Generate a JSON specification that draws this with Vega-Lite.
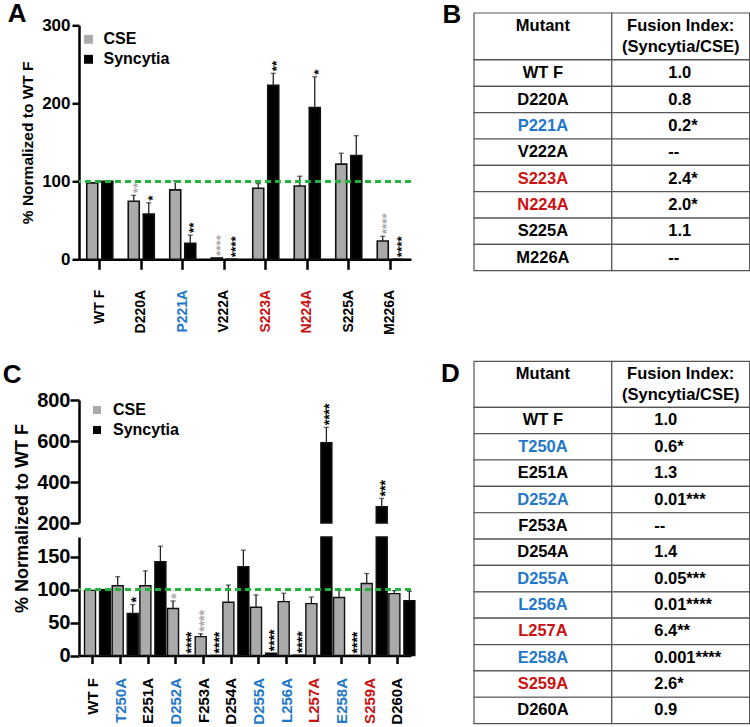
{
  "$schema": "https://vega.github.io/schema/vega-lite/v6.json",
  "padding": {"left": 2, "top": 1, "right": 0, "bottom": 0},
  "config": {
    "font": "Liberation Sans",
    "view": {"stroke": null},
    "axis": {"grid": false, "domainColor": "black", "tickColor": "black", "labelColor": "black", "titleColor": "black", "labelFontWeight": "bold", "titleFontWeight": "bold"},
    "title": {"fontSize": 26, "fontWeight": "bold", "anchor": "start", "color": "black"}
  },
  "datasets": {
    "a": [
      {"mutant": "WT F", "series": "CSE", "value": 98, "upper": 98, "stars": ""},
      {"mutant": "WT F", "series": "Syncytia", "value": 100, "upper": 100, "stars": ""},
      {"mutant": "D220A", "series": "CSE", "value": 74.5, "upper": 82, "stars": "**"},
      {"mutant": "D220A", "series": "Syncytia", "value": 58, "upper": 72.5, "stars": "*"},
      {"mutant": "P221A", "series": "CSE", "value": 89, "upper": 100.5, "stars": ""},
      {"mutant": "P221A", "series": "Syncytia", "value": 20.5, "upper": 31, "stars": "**"},
      {"mutant": "V222A", "series": "CSE", "value": 1.7, "upper": 1.7, "stars": "****"},
      {"mutant": "V222A", "series": "Syncytia", "value": 0, "upper": 0, "stars": "****"},
      {"mutant": "S223A", "series": "CSE", "value": 91, "upper": 97, "stars": ""},
      {"mutant": "S223A", "series": "Syncytia", "value": 223, "upper": 238.5, "stars": "**"},
      {"mutant": "N224A", "series": "CSE", "value": 94, "upper": 106.5, "stars": ""},
      {"mutant": "N224A", "series": "Syncytia", "value": 194.5, "upper": 234, "stars": "*"},
      {"mutant": "S225A", "series": "CSE", "value": 122, "upper": 136, "stars": ""},
      {"mutant": "S225A", "series": "Syncytia", "value": 133, "upper": 158.5, "stars": ""},
      {"mutant": "M226A", "series": "CSE", "value": 23.5, "upper": 29.5, "stars": "****"},
      {"mutant": "M226A", "series": "Syncytia", "value": 0, "upper": 0, "stars": "****"}
    ],
    "c": [
      {"mutant": "WT F", "series": "CSE", "value": 99, "upper": 99, "stars": ""},
      {"mutant": "WT F", "series": "Syncytia", "value": 100, "upper": 100, "stars": ""},
      {"mutant": "T250A", "series": "CSE", "value": 105.9, "upper": 119.7, "stars": ""},
      {"mutant": "T250A", "series": "Syncytia", "value": 64, "upper": 77.3, "stars": "*"},
      {"mutant": "E251A", "series": "CSE", "value": 106, "upper": 128.6, "stars": ""},
      {"mutant": "E251A", "series": "Syncytia", "value": 142.4, "upper": 166, "stars": ""},
      {"mutant": "D252A", "series": "CSE", "value": 71.4, "upper": 82.8, "stars": "*"},
      {"mutant": "D252A", "series": "Syncytia", "value": 0, "upper": 0, "stars": "****"},
      {"mutant": "F253A", "series": "CSE", "value": 28.6, "upper": 33, "stars": "****"},
      {"mutant": "F253A", "series": "Syncytia", "value": 0, "upper": 0, "stars": "****"},
      {"mutant": "D254A", "series": "CSE", "value": 80.8, "upper": 107, "stars": ""},
      {"mutant": "D254A", "series": "Syncytia", "value": 135, "upper": 160, "stars": ""},
      {"mutant": "D255A", "series": "CSE", "value": 73.4, "upper": 92, "stars": ""},
      {"mutant": "D255A", "series": "Syncytia", "value": 3.4, "upper": 3.4, "stars": "****"},
      {"mutant": "L256A", "series": "CSE", "value": 81.8, "upper": 94.6, "stars": ""},
      {"mutant": "L256A", "series": "Syncytia", "value": 0.5, "upper": 0.5, "stars": "****"},
      {"mutant": "L257A", "series": "CSE", "value": 78.8, "upper": 88.7, "stars": ""},
      {"mutant": "L257A", "series": "Syncytia", "value": 591.7, "upper": 666.8, "stars": "****"},
      {"mutant": "E258A", "series": "CSE", "value": 88.2, "upper": 99, "stars": ""},
      {"mutant": "E258A", "series": "Syncytia", "value": 0, "upper": 0, "stars": "****"},
      {"mutant": "S259A", "series": "CSE", "value": 109.4, "upper": 124.6, "stars": ""},
      {"mutant": "S259A", "series": "Syncytia", "value": 279.6, "upper": 320, "stars": "***"},
      {"mutant": "D260A", "series": "CSE", "value": 94, "upper": 98.5, "stars": ""},
      {"mutant": "D260A", "series": "Syncytia", "value": 83.3, "upper": 97.5, "stars": ""}
    ],
    "b": [
      {"mutant": "WT F", "fi": "1.0", "effect": "none"},
      {"mutant": "D220A", "fi": "0.8", "effect": "none"},
      {"mutant": "P221A", "fi": "0.2*", "effect": "decreased"},
      {"mutant": "V222A", "fi": "--", "effect": "none"},
      {"mutant": "S223A", "fi": "2.4*", "effect": "increased"},
      {"mutant": "N224A", "fi": "2.0*", "effect": "increased"},
      {"mutant": "S225A", "fi": "1.1", "effect": "none"},
      {"mutant": "M226A", "fi": "--", "effect": "none"}
    ],
    "d": [
      {"mutant": "WT F", "fi": "1.0", "effect": "none"},
      {"mutant": "T250A", "fi": "0.6*", "effect": "decreased"},
      {"mutant": "E251A", "fi": "1.3", "effect": "none"},
      {"mutant": "D252A", "fi": "0.01***", "effect": "decreased"},
      {"mutant": "F253A", "fi": "--", "effect": "none"},
      {"mutant": "D254A", "fi": "1.4", "effect": "none"},
      {"mutant": "D255A", "fi": "0.05***", "effect": "decreased"},
      {"mutant": "L256A", "fi": "0.01****", "effect": "decreased"},
      {"mutant": "L257A", "fi": "6.4**", "effect": "increased"},
      {"mutant": "E258A", "fi": "0.001****", "effect": "decreased"},
      {"mutant": "S259A", "fi": "2.6*", "effect": "increased"},
      {"mutant": "D260A", "fi": "0.9", "effect": "none"}
    ],
    "hdr": [
      {"col": "Mutant", "label": "Mutant\n "},
      {"col": "Fusion", "label": "Fusion Index:\n(Syncytia/CSE)"}
    ]
  },
  "resolve": {"scale": {"color": "independent", "x": "independent", "y": "independent"}, "legend": {"color": "independent"}},
  "spacing": 24,
  "hconcat": [
    {
      "spacing": 26,
      "resolve": {"scale": {"color": "independent", "x": "independent", "y": "independent"}, "legend": {"color": "independent"}},
      "vconcat": [
        {
          "spacing": 11.3,
          "bounds": "flush",
          "resolve": {"scale": {"color": "independent", "x": "independent", "y": "independent"}, "legend": {"color": "independent"}},
          "vconcat": [
            {"width": 332, "height": 1, "data": {"values": []}, "mark": {"type": "point", "opacity": 0}},
            {
              "title": {"text": "A", "dx": -13, "offset": -11},
              "width": 332,
              "height": 234,
              "data": {"name": "a"},
              "layer": [
                {
                  "mark": {"type": "bar", "stroke": "#111111", "strokeWidth": 1.6},
                  "encoding": {
                    "x": {"field": "mutant", "type": "nominal", "sort": null, "title": null,
                      "scale": {"domain": ["WT F", "D220A", "P221A", "V222A", "S223A", "N224A", "S225A", "M226A"], "paddingInner": 0.373, "paddingOuter": 0.1865},
                      "axis": {"labelAngle": 270, "labelFontSize": 14, "tickSize": 10, "labelPadding": 20, "domainWidth": 2.5, "tickWidth": 2.5,
                        "labelColor": {"condition": [{"test": "datum.value === 'P221A'", "value": "#1f78c9"}, {"test": "indexof(['S223A','N224A'], datum.value) >= 0", "value": "#cc1111"}], "value": "black"}}},
                    "xOffset": {"field": "series", "type": "nominal", "scale": {"domain": ["CSE", "Syncytia"], "paddingInner": 0.267, "paddingOuter": 0}},
                    "y": {"field": "value", "type": "quantitative", "title": "% Normalized to WT F", "scale": {"domain": [0, 300]},
                      "axis": {"values": [0, 100, 200, 300], "labelFontSize": 17, "tickSize": 7, "labelPadding": 2, "domainWidth": 2.5, "tickWidth": 2.5, "titleFontSize": 15.5, "titlePadding": 6}},
                    "color": {"field": "series", "type": "nominal", "scale": {"domain": ["CSE", "Syncytia"], "range": ["#aaaaaa", "#000000"]},
                      "legend": {"orient": "top-left", "title": null, "symbolType": "square", "symbolSize": 80, "symbolStrokeWidth": 0, "symbolOffset": -4.5, "labelFontSize": 16, "labelFontWeight": "bold", "labelColor": "black", "labelOffset": 7, "offset": 6, "padding": 0, "rowPadding": 4}}
                  }
                },
                {
                  "transform": [{"filter": "datum.upper > datum.value"}],
                  "mark": {"type": "rule", "color": "#222222", "strokeWidth": 1.3},
                  "encoding": {
                    "x": {"field": "mutant", "type": "nominal", "sort": null, "title": null},
                    "xOffset": {"field": "series", "type": "nominal"},
                    "y": {"field": "value", "type": "quantitative", "title": "% Normalized to WT F",
                      "axis": {"values": [0, 100, 200, 300], "labelFontSize": 17, "tickSize": 7, "labelPadding": 2, "domainWidth": 2.5, "tickWidth": 2.5, "titleFontSize": 15.5, "titlePadding": 6}},
                    "y2": {"field": "upper"}
                  }
                },
                {
                  "transform": [{"filter": "datum.upper > datum.value"}],
                  "mark": {"type": "tick", "color": "#222222", "thickness": 1.3, "size": 5},
                  "encoding": {
                    "x": {"field": "mutant", "type": "nominal", "sort": null, "title": null},
                    "xOffset": {"field": "series", "type": "nominal"},
                    "y": {"field": "upper", "type": "quantitative", "title": "% Normalized to WT F",
                      "axis": {"values": [0, 100, 200, 300], "labelFontSize": 17, "tickSize": 7, "labelPadding": 2, "domainWidth": 2.5, "tickWidth": 2.5, "titleFontSize": 15.5, "titlePadding": 6}}
                  }
                },
                {
                  "transform": [{"filter": "datum.stars != ''"}],
                  "mark": {"type": "text", "angle": 270, "align": "left", "baseline": "middle", "dx": 2, "dy": 4, "fontSize": 13.5, "fontWeight": "bold"},
                  "encoding": {
                    "x": {"field": "mutant", "type": "nominal", "sort": null, "title": null},
                    "xOffset": {"field": "series", "type": "nominal"},
                    "y": {"field": "upper", "type": "quantitative", "title": "% Normalized to WT F",
                      "axis": {"values": [0, 100, 200, 300], "labelFontSize": 17, "tickSize": 7, "labelPadding": 2, "domainWidth": 2.5, "tickWidth": 2.5, "titleFontSize": 15.5, "titlePadding": 6}},
                    "text": {"field": "stars"},
                    "color": {"field": "series", "type": "nominal", "scale": {"domain": ["CSE", "Syncytia"], "range": ["#aaaaaa", "#000000"]}, "legend": null}
                  }
                },
                {
                  "mark": {"type": "rule", "color": "#22b43a", "strokeDash": [6, 4], "strokeWidth": 2},
                  "encoding": {"y": {"datum": 100, "type": "quantitative", "title": "% Normalized to WT F",
                    "axis": {"values": [0, 100, 200, 300], "labelFontSize": 17, "tickSize": 7, "labelPadding": 2, "domainWidth": 2.5, "tickWidth": 2.5, "titleFontSize": 15.5, "titlePadding": 6}}}
                }
              ]
            }
          ]
        },
        {
          "vconcat": [
            {
              "title": {"text": "C", "dx": -34, "offset": 2.5},
              "width": 332,
              "height": 123,
              "data": {"name": "c"},
              "transform": [{"filter": "datum.value > 175"}],
              "layer": [
                {
                  "mark": {"type": "bar", "stroke": "#111111", "strokeWidth": 1.4},
                  "encoding": {
                    "x": {"field": "mutant", "type": "nominal", "sort": null, "title": null,
                      "scale": {"domain": ["WT F", "T250A", "E251A", "D252A", "F253A", "D254A", "D255A", "L256A", "L257A", "E258A", "S259A", "D260A"], "paddingInner": 0.4, "paddingOuter": 0.2},
                      "axis": null},
                    "xOffset": {"field": "series", "type": "nominal", "scale": {"domain": ["CSE", "Syncytia"], "paddingInner": 0.45, "paddingOuter": 0}},
                    "y": {"field": "value", "type": "quantitative", "title": null, "scale": {"domain": [200, 800]},
                      "axis": {"values": [200, 400, 600, 800], "labelFontSize": 20, "tickSize": 9, "labelPadding": 0, "domainWidth": 2.5, "tickWidth": 2.5}},
                    "y2": {"datum": 200},
                    "color": {"field": "series", "type": "nominal", "scale": {"domain": ["CSE", "Syncytia"], "range": ["#aaaaaa", "#000000"]},
                      "legend": {"orient": "top-left", "title": null, "symbolType": "square", "symbolSize": 64, "symbolStrokeWidth": 0, "symbolOffset": 8, "labelFontSize": 16, "labelFontWeight": "bold", "labelColor": "black", "labelOffset": 8, "offset": 2, "padding": 0, "rowPadding": 4}}
                  }
                },
                {
                  "mark": {"type": "rule", "color": "#222222", "strokeWidth": 1.3},
                  "encoding": {
                    "x": {"field": "mutant", "type": "nominal", "sort": null, "title": null},
                    "xOffset": {"field": "series", "type": "nominal"},
                    "y": {"field": "value", "type": "quantitative", "title": null,
                      "axis": {"values": [200, 400, 600, 800], "labelFontSize": 20, "tickSize": 9, "labelPadding": 0, "domainWidth": 2.5, "tickWidth": 2.5}},
                    "y2": {"field": "upper"}
                  }
                },
                {
                  "mark": {"type": "tick", "color": "#222222", "thickness": 1.3, "size": 5},
                  "encoding": {
                    "x": {"field": "mutant", "type": "nominal", "sort": null, "title": null},
                    "xOffset": {"field": "series", "type": "nominal"},
                    "y": {"field": "upper", "type": "quantitative", "title": null,
                      "axis": {"values": [200, 400, 600, 800], "labelFontSize": 20, "tickSize": 9, "labelPadding": 0, "domainWidth": 2.5, "tickWidth": 2.5}}
                  }
                },
                {
                  "mark": {"type": "text", "angle": 270, "align": "left", "baseline": "middle", "dx": 2, "dy": 4, "fontSize": 14, "fontWeight": "bold"},
                  "encoding": {
                    "x": {"field": "mutant", "type": "nominal", "sort": null, "title": null},
                    "xOffset": {"field": "series", "type": "nominal"},
                    "y": {"field": "upper", "type": "quantitative", "title": null,
                      "axis": {"values": [200, 400, 600, 800], "labelFontSize": 20, "tickSize": 9, "labelPadding": 0, "domainWidth": 2.5, "tickWidth": 2.5}},
                    "text": {"field": "stars"},
                    "color": {"field": "series", "type": "nominal", "scale": {"domain": ["CSE", "Syncytia"], "range": ["#aaaaaa", "#000000"]}, "legend": null}
                  }
                }
              ]
            },
            {
              "width": 332,
              "height": 118.5,
              "data": {"name": "c"},
              "layer": [
                {
                  "mark": {"type": "bar", "stroke": "#111111", "strokeWidth": 1.4},
                  "encoding": {
                    "x": {"field": "mutant", "type": "nominal", "sort": null, "title": null,
                      "scale": {"domain": ["WT F", "T250A", "E251A", "D252A", "F253A", "D254A", "D255A", "L256A", "L257A", "E258A", "S259A", "D260A"], "paddingInner": 0.4, "paddingOuter": 0.2},
                      "axis": {"labelAngle": 270, "labelFontSize": 15, "tickSize": 8, "labelPadding": 14, "domainWidth": 2.5, "tickWidth": 2.5,
                        "labelColor": {"condition": [{"test": "indexof(['T250A','D252A','D255A','L256A','E258A'], datum.value) >= 0", "value": "#1f78c9"}, {"test": "indexof(['L257A','S259A'], datum.value) >= 0", "value": "#cc1111"}], "value": "black"}}},
                    "xOffset": {"field": "series", "type": "nominal", "scale": {"domain": ["CSE", "Syncytia"], "paddingInner": 0.45, "paddingOuter": 0}},
                    "y": {"field": "value", "type": "quantitative", "title": "% Normalized to WT F", "scale": {"domain": [0, 175], "clamp": true},
                      "axis": {"values": [0, 50, 100, 150], "labelFontSize": 20, "tickSize": 9, "labelPadding": 0, "domainWidth": 2.5, "tickWidth": 2.5, "titleFontSize": 18, "titlePadding": 5, "titleY": -19}},
                    "color": {"field": "series", "type": "nominal", "scale": {"domain": ["CSE", "Syncytia"], "range": ["#aaaaaa", "#000000"]}, "legend": null}
                  }
                },
                {
                  "transform": [{"filter": "datum.value <= 175 && datum.upper > datum.value"}],
                  "mark": {"type": "rule", "color": "#222222", "strokeWidth": 1.3},
                  "encoding": {
                    "x": {"field": "mutant", "type": "nominal", "sort": null, "title": null},
                    "xOffset": {"field": "series", "type": "nominal"},
                    "y": {"field": "value", "type": "quantitative", "title": "% Normalized to WT F",
                      "axis": {"values": [0, 50, 100, 150], "labelFontSize": 20, "tickSize": 9, "labelPadding": 0, "domainWidth": 2.5, "tickWidth": 2.5, "titleFontSize": 18, "titlePadding": 5, "titleY": -19}},
                    "y2": {"field": "upper"}
                  }
                },
                {
                  "transform": [{"filter": "datum.value <= 175 && datum.upper > datum.value"}],
                  "mark": {"type": "tick", "color": "#222222", "thickness": 1.3, "size": 5},
                  "encoding": {
                    "x": {"field": "mutant", "type": "nominal", "sort": null, "title": null},
                    "xOffset": {"field": "series", "type": "nominal"},
                    "y": {"field": "upper", "type": "quantitative", "title": "% Normalized to WT F",
                      "axis": {"values": [0, 50, 100, 150], "labelFontSize": 20, "tickSize": 9, "labelPadding": 0, "domainWidth": 2.5, "tickWidth": 2.5, "titleFontSize": 18, "titlePadding": 5, "titleY": -19}}
                  }
                },
                {
                  "transform": [{"filter": "datum.value <= 175 && datum.stars != ''"}],
                  "mark": {"type": "text", "angle": 270, "align": "left", "baseline": "middle", "dx": 2, "dy": 4, "fontSize": 14, "fontWeight": "bold"},
                  "encoding": {
                    "x": {"field": "mutant", "type": "nominal", "sort": null, "title": null},
                    "xOffset": {"field": "series", "type": "nominal"},
                    "y": {"field": "upper", "type": "quantitative", "title": "% Normalized to WT F",
                      "axis": {"values": [0, 50, 100, 150], "labelFontSize": 20, "tickSize": 9, "labelPadding": 0, "domainWidth": 2.5, "tickWidth": 2.5, "titleFontSize": 18, "titlePadding": 5, "titleY": -19}},
                    "text": {"field": "stars"},
                    "color": {"field": "series", "type": "nominal", "scale": {"domain": ["CSE", "Syncytia"], "range": ["#aaaaaa", "#000000"]}, "legend": null}
                  }
                },
                {
                  "mark": {"type": "rule", "color": "#22b43a", "strokeDash": [6, 4], "strokeWidth": 2},
                  "encoding": {"y": {"datum": 100, "type": "quantitative", "title": "% Normalized to WT F",
                    "axis": {"values": [0, 50, 100, 150], "labelFontSize": 20, "tickSize": 9, "labelPadding": 0, "domainWidth": 2.5, "tickWidth": 2.5, "titleFontSize": 18, "titlePadding": 5, "titleY": -19}}}
                }
              ]
            }
          ],
          "spacing": 14,
          "bounds": "flush",
          "resolve": {"scale": {"color": "independent", "x": "independent", "y": "independent"}, "legend": {"color": "independent"}}
        }
      ]
    },
    {
      "spacing": 88.3,
      "vconcat": [
        {
          "spacing": 0,
          "bounds": "flush",
          "vconcat": [
            {
              "title": {"text": "B", "dx": -31, "offset": -15.4},
              "width": 275.6,
              "height": 46.7,
              "data": {"name": "hdr"},
              "encoding": {"x": {"field": "col", "type": "nominal", "sort": null, "scale": {"domain": ["Mutant", "Fusion"], "paddingInner": 0, "paddingOuter": 0}, "axis": null}},
              "layer": [
                {"mark": {"type": "rect", "fill": "white", "stroke": "#555555", "strokeWidth": 1.2}},
                {"mark": {"type": "text", "lineBreak": "\n", "fontSize": 16.5, "fontWeight": "bold", "lineHeight": 21.6, "dy": -10.8, "color": "black"}, "encoding": {"text": {"field": "label"}}}
              ]
            },
            {
              "width": 275.6,
              "height": 210.7,
              "data": {"name": "b"},
              "encoding": {"y": {"field": "mutant", "type": "nominal", "sort": null, "scale": {"paddingInner": 0, "paddingOuter": 0}, "axis": null}},
              "layer": [
                {"mark": {"type": "rect", "fill": "white", "stroke": "#555555", "strokeWidth": 1.2},
                  "encoding": {"x": {"datum": "Mutant", "type": "nominal", "scale": {"domain": ["Mutant", "Fusion"], "paddingInner": 0, "paddingOuter": 0}, "axis": null}}},
                {"mark": {"type": "rect", "fill": "white", "stroke": "#555555", "strokeWidth": 1.2},
                  "encoding": {"x": {"datum": "Fusion", "type": "nominal"}}},
                {"mark": {"type": "text", "fontSize": 16.5, "fontWeight": "bold"},
                  "encoding": {"x": {"datum": "Mutant", "type": "nominal"}, "text": {"field": "mutant"},
                    "color": {"field": "effect", "type": "nominal", "scale": {"domain": ["none", "decreased", "increased"], "range": ["black", "#1f78c9", "#cc1111"]}, "legend": null}}},
                {"mark": {"type": "text", "fontSize": 16.5, "fontWeight": "bold", "align": "left", "dx": -12.5, "color": "black"},
                  "encoding": {"x": {"datum": "Fusion", "type": "nominal"}, "text": {"field": "fi"}}}
              ]
            }
          ]
        },
        {
          "spacing": 0,
          "bounds": "flush",
          "vconcat": [
            {
              "title": {"text": "D", "dx": -32.5, "offset": -26},
              "width": 275.6,
              "height": 46,
              "data": {"name": "hdr"},
              "encoding": {"x": {"field": "col", "type": "nominal", "sort": null, "scale": {"domain": ["Mutant", "Fusion"], "paddingInner": 0, "paddingOuter": 0}, "axis": null}},
              "layer": [
                {"mark": {"type": "rect", "fill": "white", "stroke": "#555555", "strokeWidth": 1.2}},
                {"mark": {"type": "text", "lineBreak": "\n", "fontSize": 16.5, "fontWeight": "bold", "lineHeight": 21.6, "dy": -10.8, "color": "black"}, "encoding": {"text": {"field": "label"}}}
              ]
            },
            {
              "width": 275.6,
              "height": 316.3,
              "data": {"name": "d"},
              "encoding": {"y": {"field": "mutant", "type": "nominal", "sort": null, "scale": {"paddingInner": 0, "paddingOuter": 0}, "axis": null}},
              "layer": [
                {"mark": {"type": "rect", "fill": "white", "stroke": "#555555", "strokeWidth": 1.2},
                  "encoding": {"x": {"datum": "Mutant", "type": "nominal", "scale": {"domain": ["Mutant", "Fusion"], "paddingInner": 0, "paddingOuter": 0}, "axis": null}}},
                {"mark": {"type": "rect", "fill": "white", "stroke": "#555555", "strokeWidth": 1.2},
                  "encoding": {"x": {"datum": "Fusion", "type": "nominal"}}},
                {"mark": {"type": "text", "fontSize": 16.5, "fontWeight": "bold"},
                  "encoding": {"x": {"datum": "Mutant", "type": "nominal"}, "text": {"field": "mutant"},
                    "color": {"field": "effect", "type": "nominal", "scale": {"domain": ["none", "decreased", "increased"], "range": ["black", "#1f78c9", "#cc1111"]}, "legend": null}}},
                {"mark": {"type": "text", "fontSize": 16.5, "fontWeight": "bold", "align": "left", "dx": -26.5, "color": "black"},
                  "encoding": {"x": {"datum": "Fusion", "type": "nominal"}, "text": {"field": "fi"}}}
              ]
            }
          ]
        }
      ]
    }
  ]
}
